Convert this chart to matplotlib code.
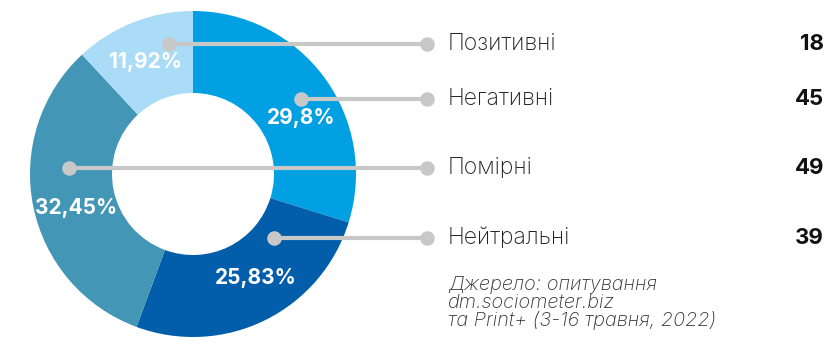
import matplotlib.pyplot as plt
import numpy as np

plt.rcParams['font.family'] = ['Inter', 'Noto Sans', 'DejaVu Sans']

# Responses per category (legend order)
categories = ['Позитивні', 'Негативні', 'Помірні', 'Нейтральні']
counts = [18, 45, 49, 39]

# Order of wedges clockwise from 12 o'clock
pie_order = ['Негативні', 'Нейтральні', 'Помірні', 'Позитивні']
colors = {'Негативні': '#00a0e3', 'Нейтральні': '#025eaa',
          'Помірні': '#4396b6', 'Позитивні': '#abdcf7'}

source = 'Джерело: опитування\ndm.sociometer.biz\nта Print+ (3-16 травня, 2022)'

W, H = 838, 346
fig = plt.figure(figsize=(W / 100, H / 100), dpi=100)
ax = fig.add_axes([0, 0, 1, 1])

cx, cy = 193, 172
r_out, r_in = 163, 81

vals = [counts[categories.index(c)] for c in pie_order]
total = sum(vals)
wedges, _ = ax.pie(vals, colors=[colors[c] for c in pie_order], startangle=90,
                   counterclock=False, center=(cx, cy), radius=r_out,
                   wedgeprops=dict(width=r_out - r_in, linewidth=0), frame=True)
ax.set_xlim(0, W)
ax.set_ylim(0, H)
ax.set_aspect('equal')
ax.axis('off')

# percentage labels, nudged a little off the wedge middle
nudge = {'Негативні': -9, 'Нейтральні': 5, 'Помірні': 5, 'Позитивні': 1.5}
for w, c, v in zip(wedges, pie_order, vals):
    ang = np.deg2rad((w.theta1 + w.theta2) / 2 + nudge[c])
    r = (r_out + r_in) / 2
    pct = f'{100 * v / total:.2f}'.rstrip('0').rstrip('.').replace('.', ',') + '%'
    ax.text(cx + r * np.cos(ang), cy + r * np.sin(ang), pct, color='white',
            fontsize=15, fontweight='bold', ha='center', va='center')

# leader lines from the ring to the legend rows
row_y = [H - 44, H - 99, H - 168, H - 238]
dot_x = [169, 301, 69, 274]
line_end = 427
for c, n, y, x0 in zip(categories, counts, row_y, dot_x):
    ax.plot([x0, line_end], [y, y], color='#c8c8c8', lw=3, solid_capstyle='butt', zorder=3)
    ax.scatter([x0, line_end], [y, y], s=110, color='#c8c8c8', zorder=4, linewidths=0)
    ax.text(448, y, c, fontsize=16.5, fontweight='light', color='#222222',
            ha='left', va='center')
    ax.text(824, y, str(n), fontsize=16, fontweight='bold', color='#111111',
            ha='right', va='center')

ax.text(448, H - 276, source, fontsize=14.3, fontweight='light', style='italic',
        color='#333333', ha='left', va='top', linespacing=0.98)

fig.savefig('out.png', dpi=100)
